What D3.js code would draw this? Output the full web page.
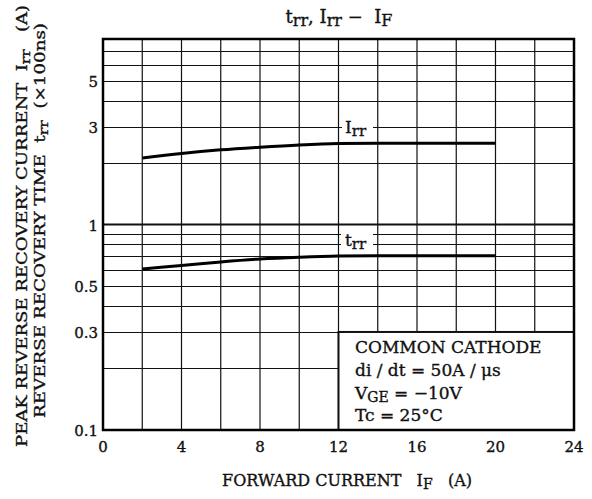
<!DOCTYPE html>
<meta charset="utf-8">
<script src="https://d3js.org/d3.v7.min.js"></script>
<style>
  body { margin: 0; background: #fff; }
  svg text { font-family: "DejaVu Serif", serif; fill: #111; stroke: #111; stroke-width: 0.35px; }
</style>
<div id="chart"></div>
<script>
// forward current (A) where the curves were read
var ifA = [2, 4, 6, 8, 10, 12, 14, 16, 18, 20];
// peak reverse recovery current Irr (A)
var irr = [2.11, 2.22, 2.31, 2.38, 2.44, 2.48, 2.49, 2.49, 2.49, 2.49];
// reverse recovery time trr (x100ns)
var trr = [0.607, 0.632, 0.658, 0.68, 0.694, 0.703, 0.705, 0.705, 0.705, 0.705];

var xTicks = [0, 4, 8, 12, 16, 20, 24];
var xGrid = [2, 4, 6, 8, 10, 12, 14, 16, 18, 20, 22];
var yTicks = [0.1, 0.3, 0.5, 1, 3, 5];
var yGrid = [0.2, 0.3, 0.4, 0.5, 0.6, 0.7, 0.8, 0.9, 2, 3, 4, 5, 6, 7];
var noteLines = ["COMMON CATHODE", "di / dt = 50A / \u03bcs", "VGE = \u221210V", "Tc = 25\u00b0C"];

var W = 592, H = 499;
var margin = {top: 39, right: 18, bottom: 69, left: 103};
var width = W - margin.left - margin.right,
    height = H - margin.top - margin.bottom;

var svg = d3.select("#chart").append("svg")
    .attr("width", W).attr("height", H);

var g = svg.append("g")
    .attr("transform", "translate(" + margin.left + "," + margin.top + ")");

var x = d3.scaleLinear().domain([0, 24]).range([0, width]);
var y = d3.scaleLog().domain([0.1, 8]).range([height, 0]);

// grid
g.selectAll(".vgrid").data(xGrid).enter().append("line")
    .attr("x1", d => x(d)).attr("x2", d => x(d))
    .attr("y1", 0).attr("y2", height)
    .attr("stroke", "#111").attr("stroke-width", 1.2);

g.selectAll(".hgrid").data(yGrid).enter().append("line")
    .attr("x1", 0).attr("x2", width)
    .attr("y1", d => Math.round(y(d)) + 0.5).attr("y2", d => Math.round(y(d)) + 0.5)
    .attr("stroke", "#111").attr("stroke-width", 1.2);

// the decade line at 1 is heavier
g.append("line")
    .attr("x1", 0).attr("x2", width)
    .attr("y1", y(1)).attr("y2", y(1))
    .attr("stroke", "#111").attr("stroke-width", 2);

// note box in the lower right, covers the grid
var box = g.append("g");
box.append("rect")
    .attr("x", x(12)).attr("y", y(0.3))
    .attr("width", x(24) - x(12)).attr("height", y(0.1) - y(0.3))
    .attr("fill", "#fff").attr("stroke", "#111").attr("stroke-width", 2);

var noteY = [353, 376, 399, 421];
noteLines.forEach(function(t, i) {
  var tx = box.append("text")
      .attr("x", 355 - margin.left)
      .attr("y", noteY[i] - margin.top)
      .style("font-size", "17px");
  if (i == 2) {
    tx.append("tspan").text("V");
    tx.append("tspan").attr("dy", 3).style("font-size", "14px").text("GE");
    tx.append("tspan").attr("dy", -3).text(" = \u221210V");
  } else {
    tx.text(t);
  }
});

// curves
var line = d3.line()
    .x(d => x(d[0]))
    .y(d => y(d[1]))
    .curve(d3.curveMonotoneX);

[irr, trr].forEach(function(s) {
  g.append("path")
      .datum(ifA.map((v, i) => [v, s[i]]))
      .attr("fill", "none")
      .attr("stroke", "#000")
      .attr("stroke-width", 3)
      .attr("d", line);
});

// curve labels sit on the grid with a white gap
function curveLabel(main, sub, px, py, gx0, gx1, gy0, gy1) {
  g.append("rect")
      .attr("x", gx0 - margin.left).attr("y", gy0 - margin.top)
      .attr("width", gx1 - gx0).attr("height", gy1 - gy0)
      .attr("fill", "#fff");
  var t = g.append("text")
      .attr("x", px - margin.left).attr("y", py - margin.top)
      .style("font-size", "17px");
  t.append("tspan").text(main);
  t.append("tspan").attr("dy", 3).style("font-size", "15px").text(sub);
}
curveLabel("I", "rr", 345, 133, 342, 373, 118, 137);
curveLabel("t", "rr", 345, 246, 341, 373, 230, 248);

// frame
g.append("rect")
    .attr("width", width).attr("height", height)
    .attr("fill", "none").attr("stroke", "#000").attr("stroke-width", 2.5);

// tick labels
g.selectAll(".xt").data(xTicks).enter().append("text")
    .attr("x", d => x(d)).attr("y", height + 22)
    .attr("text-anchor", "middle")
    .style("font-size", "15px")
    .text(d => d);

g.selectAll(".yt").data(yTicks).enter().append("text")
    .attr("x", -5).attr("y", d => y(d) + 6)
    .attr("text-anchor", "end")
    .style("font-size", "15px")
    .text(d => d);

// title
var title = svg.append("text")
    .attr("x", 339).attr("y", 23)
    .attr("text-anchor", "middle")
    .attr("xml:space", "preserve")
    .style("font-size", "18px");
title.append("tspan").text("t");
title.append("tspan").attr("dy", 3).style("font-size", "16px").text("rr");
title.append("tspan").attr("dy", -3).text(", I");
title.append("tspan").attr("dy", 3).style("font-size", "16px").text("rr");
title.append("tspan").attr("dy", -3).text(" \u2212  I");
title.append("tspan").attr("dy", 3).style("font-size", "16px").text("F");

// x axis title
var xt = svg.append("text")
    .attr("x", 347).attr("y", 486)
    .attr("text-anchor", "middle")
    .attr("xml:space", "preserve")
    .style("font-size", "16px");
xt.append("tspan").text("FORWARD CURRENT   I");
xt.append("tspan").attr("dy", 3).style("font-size", "14px").text("F");
xt.append("tspan").attr("dy", -3).text("   (A)");

// y axis title, two lines
var yl1 = svg.append("text")
    .attr("transform", "translate(27,447) rotate(-90)")
    .attr("textLength", 442).attr("lengthAdjust", "spacingAndGlyphs")
    .attr("xml:space", "preserve")
    .style("font-size", "15px");
yl1.append("tspan").text("PEAK REVERSE RECOVERY CURRENT  I");
yl1.append("tspan").attr("dy", 3).style("font-size", "13px").text("rr");
yl1.append("tspan").attr("dy", -3).text("   (A)");

var yl2 = svg.append("text")
    .attr("transform", "translate(45,418) rotate(-90)")
    .attr("textLength", 395).attr("lengthAdjust", "spacingAndGlyphs")
    .attr("xml:space", "preserve")
    .style("font-size", "15px");
yl2.append("tspan").text("REVERSE RECOVERY TIME  t");
yl2.append("tspan").attr("dy", 3).style("font-size", "13px").text("rr");
yl2.append("tspan").attr("dy", -3).text("  (\u00d7100ns)");
</script>
